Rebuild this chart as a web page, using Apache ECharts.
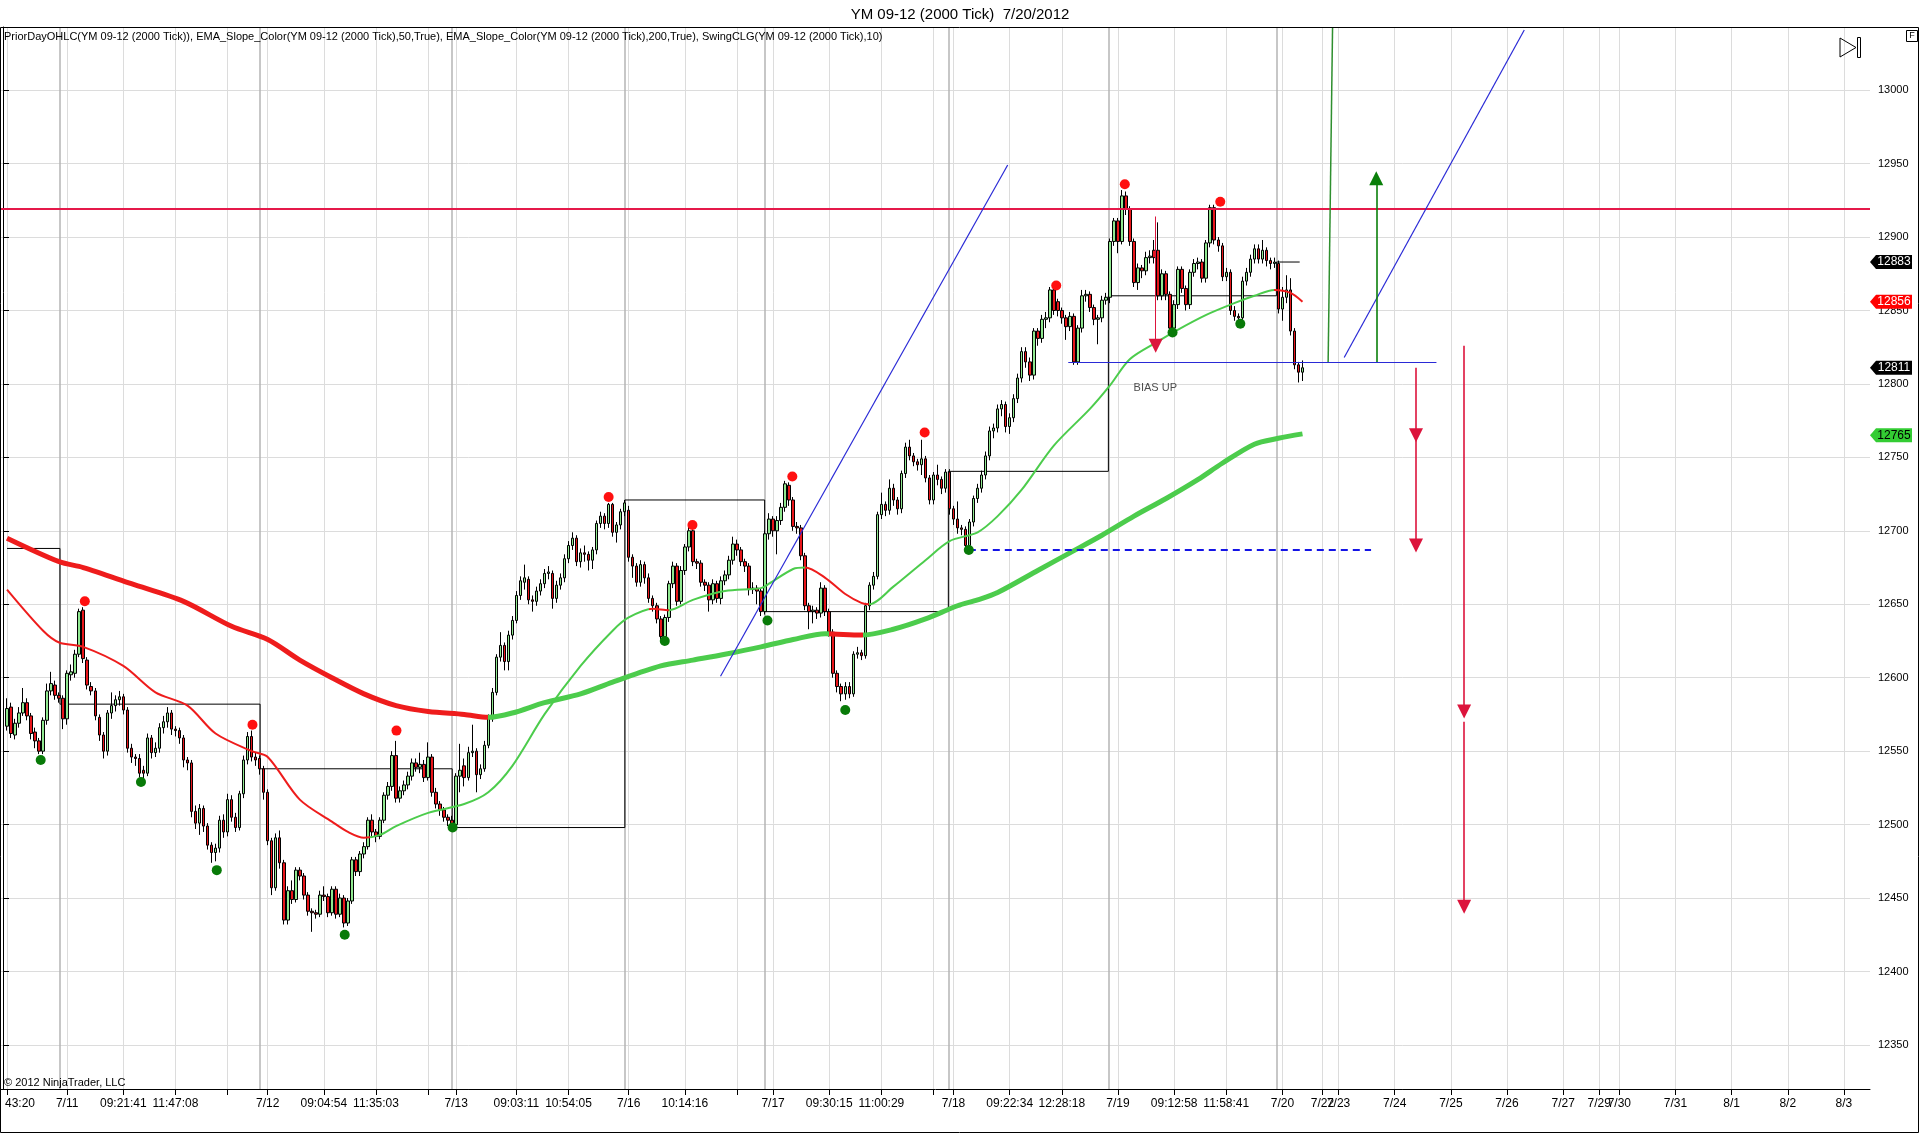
<!DOCTYPE html>
<html>
<head>
<meta charset="utf-8">
<script src="https://cdn.jsdelivr.net/npm/echarts@6/dist/echarts.min.js"></script>
<style>
html,body{margin:0;padding:0;background:#fff;}
#chart{width:1920px;height:1135px;}
</style>
</head>
<body>
<div id="chart"></div>
<script>
// ---------------- DATA ----------------
const titleText = 'YM 09-12 (2000 Tick)  7/20/2012';
const indicatorText = 'PriorDayOHLC(YM 09-12 (2000 Tick)), EMA_Slope_Color(YM 09-12 (2000 Tick),50,True), EMA_Slope_Color(YM 09-12 (2000 Tick),200,True), SwingCLG(YM 09-12 (2000 Tick),10)';
const copyrightText = '\u00A9 2012 NinjaTrader, LLC';

const slotCount = 466;     // bar slots on the time axis (bars + future space)
const candleStart = 1;     // slot of the first bar

// [open, close, low, high]
const ohlc = [
[12567,12579,12564,12586],[12580,12562,12559,12583],[12561,12569,12558,12572],[12569,12576,12566,12580],[12576,12583,12574,12593],
[12583,12574,12571,12586],[12574,12562,12558,12576],[12563,12557,12552,12566],[12557,12550,12548,12559],[12550,12571,12548,12573],
[12571,12591,12568,12596],[12591,12596,12588,12604],[12595,12588,12585,12598],[12588,12586,12583,12590],[12586,12572,12565,12588],
[12572,12603,12568,12605],[12602,12604,12598,12609],[12603,12616,12600,12619],[12616,12645,12614,12647],[12646,12613,12610,12648],
[12612,12595,12592,12614],[12594,12591,12588,12597],[12591,12574,12571,12593],[12573,12561,12557,12575],[12561,12550,12545,12563],
[12550,12576,12547,12578],[12576,12581,12572,12590],[12581,12585,12577,12588],[12585,12587,12581,12591],[12587,12578,12575,12589],
[12578,12552,12549,12580],[12552,12546,12542,12555],[12546,12545,12540,12548],[12545,12535,12532,12548],[12537,12535,12530,12540],
[12535,12559,12533,12562],[12559,12549,12545,12561],[12549,12552,12546,12556],[12552,12566,12549,12569],[12566,12570,12562,12574],
[12570,12576,12566,12580],[12576,12565,12561,12578],[12565,12564,12560,12567],[12564,12559,12555,12566],[12559,12544,12539,12561],
[12544,12542,12537,12546],[12542,12509,12505,12544],[12509,12501,12497,12513],[12501,12511,12493,12514],[12511,12499,12495,12513],
[12499,12486,12483,12501],[12486,12481,12474,12488],[12481,12484,12475,12487],[12484,12503,12481,12506],[12503,12495,12491,12507],
[12495,12517,12492,12521],[12517,12505,12502,12520],[12505,12498,12495,12508],[12498,12521,12496,12523],[12521,12544,12518,12547],
[12544,12560,12541,12563],[12560,12546,12543,12564],[12546,12544,12540,12549],[12545,12538,12534,12547],[12538,12522,12517,12540],
[12522,12489,12486,12524],[12489,12457,12452,12491],[12457,12491,12455,12494],[12491,12474,12470,12496],[12474,12435,12432,12476],
[12435,12455,12432,12458],[12455,12449,12446,12462],[12449,12469,12447,12471],[12469,12465,12462,12471],[12465,12452,12449,12467],
[12452,12441,12438,12454],[12441,12440,12427,12443],[12440,12439,12436,12442],[12439,12452,12437,12455],[12452,12451,12448,12458],
[12451,12440,12437,12453],[12440,12456,12438,12458],[12456,12439,12436,12458],[12439,12450,12437,12453],[12450,12433,12430,12452],
[12433,12448,12431,12450],[12448,12476,12446,12478],[12476,12468,12465,12478],[12468,12480,12465,12482],[12480,12485,12477,12488],
[12485,12503,12483,12505],[12503,12495,12491,12507],[12495,12492,12488,12497],[12492,12503,12490,12505],[12503,12520,12501,12522],
[12520,12526,12517,12529],[12526,12547,12523,12550],[12547,12518,12515,12557],[12518,12523,12515,12526],[12523,12527,12520,12530],
[12527,12533,12524,12536],[12533,12542,12530,12545],[12542,12539,12536,12545],[12539,12541,12535,12549],[12541,12532,12529,12544],
[12532,12546,12530,12556],[12546,12522,12519,12548],[12522,12514,12511,12525],[12514,12510,12506,12516],[12510,12505,12502,12512],
[12505,12503,12499,12507],[12503,12500,12498,12506],[12500,12533,12497,12535],[12533,12537,12522,12555],[12540,12532,12526,12545],
[12532,12549,12530,12553],[12549,12550,12546,12568],[12550,12534,12522,12552],[12534,12538,12531,12541],[12538,12554,12536,12557],
[12554,12572,12552,12575],[12572,12590,12570,12593],[12590,12614,12588,12616],[12614,12622,12611,12631],[12622,12611,12605,12624],
[12611,12629,12605,12632],[12629,12639,12626,12642],[12639,12656,12637,12659],[12656,12666,12653,12669],[12665,12668,12660,12677],
[12667,12653,12650,12669],[12653,12652,12645,12656],[12652,12659,12649,12662],[12659,12664,12656,12667],[12664,12671,12661,12674],
[12671,12672,12667,12676],[12671,12654,12647,12673],[12654,12663,12651,12666],[12663,12668,12660,12671],[12668,12681,12665,12684],
[12681,12690,12678,12693],[12690,12695,12687,12699],[12695,12679,12676,12697],[12679,12685,12675,12688],[12685,12684,12679,12690],
[12684,12680,12673,12686],[12680,12687,12674,12689],[12687,12705,12684,12707],[12705,12710,12702,12713],[12710,12705,12701,12712],
[12705,12718,12702,12719],[12718,12699,12696,12719],[12699,12704,12692,12706],[12704,12713,12701,12715],[12713,12719,12710,12721],
[12714,12682,12679,12717],[12682,12676,12668,12684],[12676,12665,12662,12678],[12665,12677,12662,12680],[12677,12668,12664,12679],
[12668,12654,12651,12671],[12654,12649,12645,12656],[12649,12640,12637,12651],[12640,12628,12625,12642],[12628,12641,12626,12643],
[12641,12664,12638,12666],[12664,12676,12661,12679],[12676,12652,12649,12678],[12652,12673,12650,12676],[12673,12689,12670,12691],
[12689,12700,12686,12703],[12700,12679,12676,12702],[12679,12678,12674,12681],[12678,12665,12662,12680],[12665,12663,12659,12667],
[12663,12653,12645,12665],[12653,12664,12650,12667],[12664,12654,12651,12666],[12654,12666,12650,12669],[12666,12670,12663,12673],
[12670,12680,12667,12683],[12680,12691,12677,12696],[12691,12687,12683,12694],[12687,12679,12676,12689],[12679,12676,12672,12681],
[12676,12660,12656,12678],[12660,12661,12657,12665],[12661,12659,12650,12663],[12659,12645,12642,12661],[12645,12698,12643,12700],
[12698,12708,12694,12712],[12708,12700,12696,12710],[12700,12707,12684,12710],[12707,12716,12704,12719],[12716,12732,12713,12734],
[12731,12721,12717,12733],[12721,12703,12700,12723],[12703,12702,12698,12706],[12702,12683,12680,12704],[12683,12649,12646,12685],
[12649,12645,12633,12651],[12645,12646,12637,12649],[12646,12644,12640,12648],[12644,12661,12641,12665],[12661,12645,12642,12663],
[12645,12631,12628,12647],[12631,12603,12600,12633],[12603,12594,12590,12605],[12594,12589,12584,12596],[12589,12594,12585,12597],
[12594,12589,12586,12597],[12589,12616,12587,12618],[12616,12617,12613,12621],[12617,12615,12612,12619],[12615,12649,12613,12651],
[12649,12663,12646,12665],[12663,12669,12660,12672],[12669,12711,12667,12713],[12711,12718,12708,12726],[12718,12714,12710,12720],
[12714,12729,12711,12735],[12729,12721,12717,12732],[12721,12715,12711,12723],[12715,12739,12712,12741],[12739,12757,12736,12760],
[12757,12751,12748,12762],[12751,12747,12744,12753],[12747,12745,12741,12749],[12745,12749,12738,12762],[12749,12736,12733,12751],
[12736,12721,12718,12738],[12721,12738,12718,12740],[12738,12735,12731,12745],[12735,12729,12725,12737],[12729,12740,12726,12742],
[12740,12715,12711,12742],[12715,12708,12704,12717],[12708,12702,12698,12720],[12702,12701,12697,12704],[12701,12690,12688,12703],
[12690,12706,12688,12708],[12706,12722,12703,12724],[12722,12729,12719,12732],[12729,12738,12726,12741],[12738,12751,12735,12754],
[12751,12768,12748,12771],[12768,12770,12763,12773],[12770,12783,12767,12786],[12783,12786,12778,12789],[12786,12771,12767,12788],
[12771,12777,12766,12780],[12777,12790,12774,12793],[12790,12804,12787,12807],[12804,12822,12801,12825],[12822,12815,12811,12825],
[12815,12806,12802,12818],[12806,12836,12803,12838],[12836,12831,12826,12838],[12831,12844,12828,12847],[12844,12845,12838,12849],
[12845,12864,12842,12866],[12864,12850,12847,12866],[12856,12850,12846,12858],[12850,12845,12841,12852],[12845,12839,12830,12847],
[12839,12846,12836,12849],[12846,12815,12813,12848],[12815,12838,12813,12840],[12838,12860,12835,12864],[12860,12861,12856,12864],
[12861,12852,12849,12863],[12852,12844,12840,12854],[12844,12845,12827,12847],[12845,12857,12842,12860],[12857,12859,12854,12862],
[12859,12897,12855,12899],[12897,12911,12894,12913],[12911,12897,12889,12913],[12897,12928,12895,12932],[12928,12919,12915,12931],
[12919,12897,12894,12921],[12897,12869,12866,12899],[12869,12879,12864,12882],[12879,12877,12872,12881],[12877,12886,12874,12890],
[12886,12887,12882,12891],[12891,12886,12882,12898],[12891,12860,12857,12910],[12860,12875,12857,12878],[12875,12861,12857,12877],
[12861,12838,12835,12863],[12838,12854,12836,12857],[12854,12878,12851,12880],[12878,12865,12862,12880],[12865,12854,12850,12867],
[12854,12876,12851,12878],[12876,12882,12873,12885],[12882,12883,12878,12886],[12883,12872,12869,12885],[12872,12896,12869,12898],
[12896,12920,12893,12922],[12920,12898,12895,12922],[12898,12894,12890,12900],[12894,12873,12870,12896],[12873,12876,12870,12879],
[12876,12850,12847,12878],[12850,12846,12843,12853],[12846,12845,12843,12848],[12845,12870,12843,12873],[12870,12876,12867,12879],
[12876,12885,12873,12888],[12885,12892,12882,12895],[12892,12885,12882,12895],[12885,12891,12882,12898],[12891,12884,12880,12893],
[12884,12882,12878,12886],[12882,12883,12879,12886],[12882,12851,12848,12884],[12851,12859,12843,12866],[12859,12864,12855,12874],
[12864,12836,12833,12872],[12836,12813,12810,12838],[12813,12808,12801,12815],[12808,12811,12802,12816]
];

// time-axis tick labels: [slot, text]
const xTicks = [
[1,'43:20'],[16,'7/11'],[30,'09:21:41'],[43,'11:47:08'],[56,''],[66,'7/12'],[80,'09:04:54'],[93,'11:35:03'],[106,''],
[113,'7/13'],[128,'09:03:11'],[141,'10:54:05'],[156,'7/16'],[170,'10:14:16'],[183,''],[192,'7/17'],[206,'09:30:15'],
[219,'11:00:29'],[232,''],[237,'7/18'],[251,'09:22:34'],[264,'12:28:18'],[278,'7/19'],[292,'09:12:58'],[305,'11:58:41'],
[319,'7/20'],[329,'7/22'],[333,'7/23'],[347,'7/24'],[361,'7/25'],[375,'7/26'],[389,'7/27'],[398,'7/29'],[403,'7/30'],
[417,'7/31'],[431,'8/1'],[445,'8/2'],[459,'8/3']
];
const sessionBreaks = [14.2, 64.1, 111.9, 155.05, 189.9, 235.7, 275.6, 317.5];

const yMin = 12320, yMax = 13043;
const yTicks = [12350,12400,12450,12500,12550,12600,12650,12700,12750,12800,12850,12900,12950,13000];

// EMA(50) and EMA(200): [slot, value]
const ema50 = [[1,12660],[10,12632],[14,12624],[20,12621],[30,12608],[38,12590],[46,12581],[53,12562],[62,12550],[66,12546],
[74,12517],[82,12502],[86,12495],[90,12491],[94,12493],[98,12499],[106,12508],[115,12514],[121,12522],[127,12540],[135,12575],
[144,12608],[152,12632],[156,12641],[162,12647],[166,12646],[172,12653],[180,12659],[189,12661],[191,12664],[197,12674],
[200,12675],[205,12668],[210,12657],[214,12651],[216,12650],[222,12662],[230,12680],[236,12693],[243,12699],[248,12710],
[254,12728],[262,12758],[271,12783],[276,12799],[281,12817],[288,12829],[293,12837],[300,12847],[307,12855],[312,12860],
[317,12864],[321,12862],[324,12856]];
const ema200 = [[1,12695],[14,12679],[20,12675],[32,12664],[45,12652],[57,12635],[66,12626],[74,12612],[82,12600],[90,12589],
[98,12581],[106,12577],[115,12575],[121,12573],[127,12576],[135,12583],[144,12589],[152,12597],[164,12608],[172,12612],
[180,12616],[189,12621],[197,12626],[205,12630],[214,12629],[222,12633],[230,12640],[238,12649],[243,12653],[248,12658],
[258,12673],[266,12685],[274,12697],[282,12710],[290,12722],[298,12735],[304,12746],[312,12759],[318,12763],[324,12766]];
// slot ranges where each EMA slopes down (drawn red)
const ema50Falling = [[-1,91.5],[161,166],[200,216],[317,400]];
const ema200Falling = [[-1,121],[206,214.5]];

// PriorDayOHLC step line: [slot, value]
const priorDay = [[1,12688],[14.2,12688],[14.2,12582],[64.1,12582],[64.1,12538],[112,12538],[112,12498],[155.05,12498],
[155.05,12721],[189.9,12721],[189.9,12645],[235.7,12645],[235.7,12740.5],[275.6,12740.5],[275.6,12860],[317.5,12860],
[317.5,12883],[323.3,12883]];

// Swing points: [slot, value]
const swingHighs = [[20.4,12652],[62.2,12568],[98.1,12564],[151,12723],[171.9,12704],[196.8,12737],[229.8,12767],
[262.6,12867],[279.7,12936],[303.5,12924]];
const swingLows = [[9.4,12544],[34.4,12529],[53.3,12469],[85.2,12425],[112.1,12498],[165,12625],[190.6,12639],
[210,12578],[240.8,12687],[291.6,12835],[308.5,12841]];

// Drawn objects: [[slot, value], [slot, value]]
const resistanceLevel = 12919;
const blueTrendLines = [[[178.9,12601],[250.5,12949]], [[334.4,12818],[379.3,13041]], [[265.6,12815],[357.4,12815]]];
const dashedLevel = [[240.8,12687],[341.1,12687]];
const greenLine = [[330.4,12815],[331.5,13043]];
const upArrows = [[[342.4,12815],[342.4,12940]]];
const downArrows = [[[352.3,12811],[352.3,12765]],[[352.3,12763],[352.3,12690]],[[364.3,12826],[364.3,12577]],
[[364.3,12570],[364.3,12444]]];
const biasArrow = [[287.4,12914],[287.4,12826]];
const biasText = [287.3, 12797, 'BIAS UP'];

// right-axis price tags
const tagValues = [12883, 12856, 12811, 12765];

// ---------------- STYLES ----------------
const FONT = "'Liberation Sans', Arial, sans-serif";
const NARROW = "'Liberation Sans Narrow', 'Liberation Sans', Arial, sans-serif";
const RED = '#ee1c1c', GREEN = '#4ccc4c';
const tagBg = ['#000000', '#ff0000', '#000000', '#33cc33'];
const tagFg = ['#ffffff', '#ffffff', '#ffffff', '#000000'];

// ---------------- BUILD ----------------
const cats = new Array(slotCount).fill('');
const tickSet = new Set();
xTicks.forEach(([i, t]) => { cats[i] = t; tickSet.add(i); });
const candleData = new Array(slotCount).fill('-');
ohlc.forEach((d, k) => { candleData[candleStart + k] = d; });

function slopePieces(falling, up, down) {
  const pieces = []; let start = -1e9;
  falling.forEach(([a, b]) => {
    if (a > start) pieces.push({ gte: start, lt: a, color: up });
    pieces.push({ gte: a, lt: b, color: down });
    start = b;
  });
  pieces.push({ gte: start, lt: 1e9, color: up });
  return pieces;
}
function seg(coords, style) { return { coords: coords, lineStyle: Object.assign({ opacity: 1, curveness: 0 }, style) }; }
function linesSeries(name, data, extra) {
  return Object.assign({
    name: name, type: 'lines', coordinateSystem: 'cartesian2d', xAxisIndex: 1, yAxisIndex: 0,
    polyline: false, silent: true, data: data, symbol: 'none', animation: false,
    lineStyle: { opacity: 1, curveness: 0 }
  }, extra || {});
}

const chart = echarts.init(document.getElementById('chart'), null, { renderer: 'canvas' });

const option = {
  animation: false,
  backgroundColor: '#ffffff',
  textStyle: { fontFamily: FONT },
  title: [
    { text: titleText, left: 'center', top: 7, padding: 0,
      textStyle: { fontSize: 15, fontWeight: 'normal', color: '#000', fontFamily: FONT } },
    { text: indicatorText, left: 4, top: 31, padding: 0,
      textStyle: { fontSize: 11, fontWeight: 'normal', color: '#000', fontFamily: FONT } },
    { text: copyrightText, left: 4, top: 1077, padding: 0,
      textStyle: { fontSize: 11, fontWeight: 'normal', color: '#000', fontFamily: FONT } }
  ],
  grid: { left: 1, right: 50, top: 27, bottom: 46, containLabel: false },
  xAxis: [
    { type: 'category', data: cats, boundaryGap: true,
      axisLine: { lineStyle: { color: '#000', width: 1 } },
      axisTick: { show: true, alignWithLabel: true, length: 6, interval: (i) => tickSet.has(i), lineStyle: { color: '#000' } },
      axisLabel: { show: true, interval: (i) => tickSet.has(i), color: '#000', fontSize: 12, fontFamily: NARROW, margin: 9,
        formatter: (v, i) => (i === 1 ? '{cut|' + v + '}' : v),
        rich: { cut: { fontSize: 12, fontFamily: NARROW, color: '#000', padding: [0, 0, 0, 26] } } },
      splitLine: { show: false } },
    { type: 'value', min: -0.5, max: slotCount - 0.5, show: false }
  ],
  yAxis: [
    { type: 'value', position: 'right', min: yMin, max: yMax, scale: true,
      axisLine: { show: true, lineStyle: { color: '#000', width: 1 } },
      axisTick: { show: true, length: 6, customValues: yTicks, lineStyle: { color: '#000' } },
      axisLabel: { show: true, customValues: yTicks, color: '#000', fontSize: 11, margin: 8, fontFamily: FONT,
        formatter: (v) => String(Math.round(v)) },
      splitLine: { show: false } }
  ],
  visualMap: [
    { type: 'piecewise', show: false, dimension: 0, seriesIndex: 5, pieces: slopePieces(ema200Falling, GREEN, RED) },
    { type: 'piecewise', show: false, dimension: 0, seriesIndex: 6, pieces: slopePieces(ema50Falling, GREEN, RED) }
  ],
  series: [
    // 0 vertical grid lines at ticks
    linesSeries('vgrid', xTicks.map(([i]) => seg([[i, yMin], [i, yMax]], { color: '#dcdcdc', width: 1 })), { z: 0 }),
    // 1 horizontal grid lines
    linesSeries('hgrid', yTicks.map(v => seg([[-0.5, v], [slotCount - 0.5, v]], { color: '#dcdcdc', width: 1 })), { z: 0 }),
    // 2 session breaks
    linesSeries('sessions', sessionBreaks.map(s => seg([[s, yMin], [s, yMax]], { color: '#b4b4b4', width: 1.5 })), { z: 0 }),
    // 3 candles
    { name: 'YM 09-12', type: 'candlestick', xAxisIndex: 0, yAxisIndex: 0, data: candleData, barWidth: 3, z: 3,
      itemStyle: { color: '#90e890', color0: '#e8161b', borderColor: '#000', borderColor0: '#000', borderWidth: 1 } },
    // 4 prior day step line
    { name: 'PriorDayOHLC', type: 'line', xAxisIndex: 1, yAxisIndex: 0, data: priorDay, showSymbol: false, symbol: 'none',
      lineStyle: { color: '#000', width: 1 }, z: 2, silent: true },
    // 5 EMA 200
    { name: 'EMA200', type: 'line', xAxisIndex: 1, yAxisIndex: 0, data: ema200, showSymbol: false, symbol: 'none',
      smooth: 0.3, lineStyle: { width: 5 }, z: 4, silent: true },
    // 6 EMA 50
    { name: 'EMA50', type: 'line', xAxisIndex: 1, yAxisIndex: 0, data: ema50, showSymbol: false, symbol: 'none',
      smooth: 0.3, lineStyle: { width: 2 }, z: 4, silent: true },
    // 7 resistance
    linesSeries('resistance', [seg([[-0.5, resistanceLevel], [slotCount - 0.5, resistanceLevel]], { color: '#e5194a', width: 2 })], { z: 5 }),
    // 8 blue trend lines
    linesSeries('blue', blueTrendLines.map(c => seg(c, { color: '#2a2ad6', width: 1.2 })), { z: 5 }),
    // 9 dashed level
    linesSeries('dashed', [seg(dashedLevel, { color: '#1414e6', width: 2, type: [7, 5] })], { z: 5 }),
    // 10 green line
    linesSeries('greenline', [seg(greenLine, { color: '#2f8f2f', width: 1.5 })], { z: 5 }),
    // 11 up arrows
    linesSeries('up', upArrows.map(c => seg(c, { color: '#0a7f0a', width: 1.6 })),
      { z: 6, symbol: ['none', 'triangle'], symbolSize: [1, 14], itemStyle: { color: '#0a7f0a', opacity: 1 } }),
    // 12 down arrows
    linesSeries('down', downArrows.map(c => seg(c, { color: '#dc143c', width: 1.6 })),
      { z: 6, symbol: ['none', 'triangle'], symbolSize: [1, 14], itemStyle: { color: '#dc143c', opacity: 1 } }),
    // 13 bias arrow (thin stem)
    linesSeries('biasArrow', [seg(biasArrow, { color: '#dc143c', width: 1 })],
      { z: 6, symbol: ['none', 'triangle'], symbolSize: [1, 14], itemStyle: { color: '#dc143c', opacity: 1 } }),
    // 14 swing highs
    { name: 'SwingHigh', type: 'scatter', xAxisIndex: 1, yAxisIndex: 0, data: swingHighs, symbolSize: 10, z: 7,
      itemStyle: { color: '#ff1010', opacity: 1 }, silent: true },
    // 15 swing lows
    { name: 'SwingLow', type: 'scatter', xAxisIndex: 1, yAxisIndex: 0, data: swingLows, symbolSize: 10, z: 7,
      itemStyle: { color: '#087a08', opacity: 1 }, silent: true },
    // 16 text label
    { name: 'bias', type: 'scatter', xAxisIndex: 1, yAxisIndex: 0, data: [[biasText[0], biasText[1]]], symbolSize: 1,
      itemStyle: { color: 'rgba(0,0,0,0)' }, z: 7, silent: true,
      label: { show: true, position: 'inside', formatter: biasText[2], color: '#222', fontSize: 11, fontFamily: FONT } },
    // 17 price tags
    { name: 'tags', type: 'scatter', xAxisIndex: 1, yAxisIndex: 0, clip: false, z: 20, silent: true,
      symbol: 'path://M0,7 L6,0 L42,0 L42,14 L6,14 Z', symbolSize: [42, 14], symbolOffset: [21, 0],
      data: tagValues.map((v, k) => ({ value: [slotCount - 0.5, v], itemStyle: { color: tagBg[k], opacity: 1 },
        label: { show: true, position: 'inside', offset: [3, 0], formatter: String(v), color: tagFg[k], fontSize: 12, fontFamily: FONT } })) }
  ],
  graphic: [
    { type: 'rect', silent: true, z: 100, shape: { x: 0.5, y: 27.5, width: 1918, height: 1105 },
      style: { fill: null, stroke: '#000', lineWidth: 1 } },
    { type: 'rect', silent: true, z: 100, shape: { x: 1906.5, y: 30.5, width: 11, height: 11 },
      style: { fill: '#fff', stroke: '#000', lineWidth: 1 } },
    { type: 'text', silent: true, z: 101, x: 1912, y: 36,
      style: { text: 'F', fontSize: 9, fill: '#000', align: 'center', verticalAlign: 'middle', fontFamily: FONT } },
    { type: 'polygon', silent: true, z: 100, shape: { points: [[1840, 38], [1856, 47.5], [1840, 57]] },
      style: { fill: null, stroke: '#000', lineWidth: 1 } },
    { type: 'rect', silent: true, z: 100, shape: { x: 1857.5, y: 37.5, width: 3, height: 20 },
      style: { fill: null, stroke: '#000', lineWidth: 1 } }
  ]
};
chart.setOption(option);
</script>
</body>
</html>
